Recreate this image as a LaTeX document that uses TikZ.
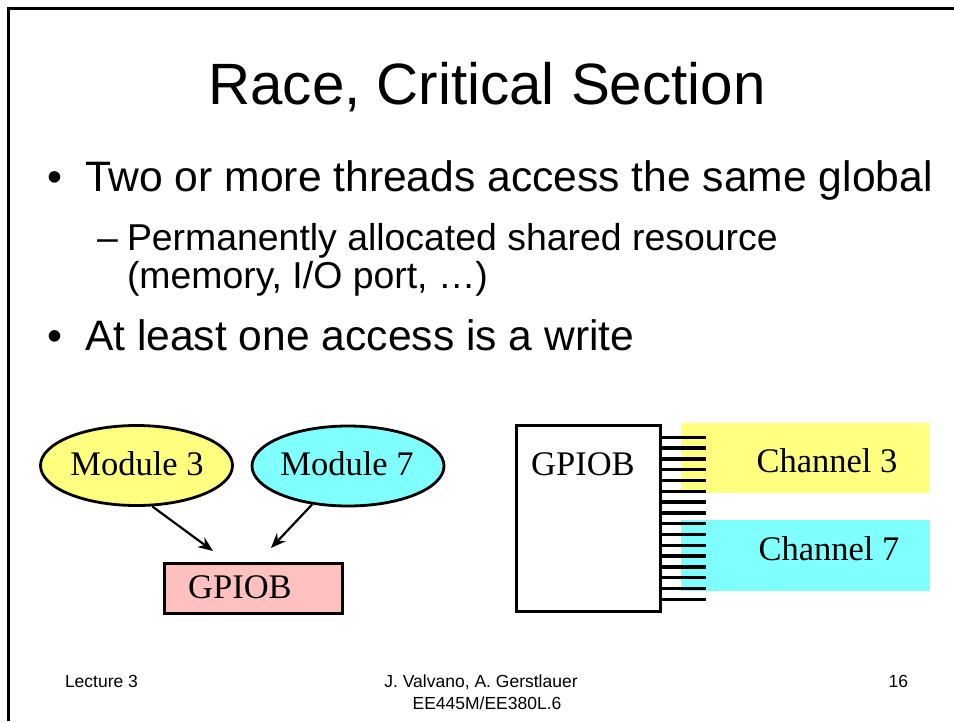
\documentclass[tikz,border=0pt]{standalone}
\usepackage{fontspec}
\setmainfont{Liberation Serif}
\newfontfamily\arialf{Liberation Sans}
\usetikzlibrary{shapes.geometric,arrows.meta,calc}
\definecolor{yel}{RGB}{255,255,128}
\definecolor{cya}{RGB}{128,255,255}
\definecolor{pnk}{RGB}{255,192,192}
\begin{document}
\begin{tikzpicture}[x=1pt,y=-1pt,
  txt/.style={inner sep=0pt, outer sep=0pt},
  titlef/.style={txt, font=\arialf\fontsize{58.3}{70}\selectfont},
  bulf/.style={txt, anchor=base west, font=\arialf\fontsize{42.6}{50}\selectfont},
  subf/.style={txt, anchor=base west, font=\arialf\fontsize{37.4}{45}\selectfont},
  footf/.style={txt, font=\arialf\fontsize{17.5}{21}\selectfont},
  lbl/.style={txt, anchor=base, font=\fontsize{34.5}{40}\selectfont},
  modshape/.style={ellipse, draw, line width=2.8pt, minimum width=192pt, minimum height=80pt, inner sep=0pt},
  boxs/.style={draw, line width=2.8pt, inner sep=0pt},
  chan/.style={inner sep=0pt},
  arr/.style={-{Stealth[length=15pt,width=12pt,inset=5pt]}, line width=2.2pt},
  pin/.style={line width=3.3pt}
]
\useasboundingbox (0,0) rectangle (954,721);
\fill[white] (0,0) rectangle (954,721);
% slide border
\draw[line width=3pt] (8.5,721) -- (8.5,8.5) -- (954,8.5);

% title
\node[titlef, anchor=base] (title) at (487,104) {Race, Critical Section};

% bullets
\node[bulf] (b1dot) at (47.6,191) {•};
\node[bulf] (b1) at (85,191) {Two or more threads access the same global};
\node[subf] (s1dash) at (97,250) {–};
\node[subf] (s1) at (127,250) {Permanently allocated shared resource};
\node[subf] (s2) at (127,288) {(memory, I/O port, …)};
\node[bulf] (b2dot) at (47.6,350) {•};
\node[bulf] (b2) at (85,350) {At least one access is a write};

% left diagram
\node[modshape, fill=yel] (mod3) at (136.5,465.5) {};
\node[lbl] (mod3t) at (137,475) {Module 3};
\node[modshape, fill=cya] (mod7) at (348,466) {};
\node[lbl] (mod7t) at (347,475) {Module 7};
\node[boxs, fill=pnk, minimum width=178pt, minimum height=50pt] (gpioL) at (253.5,588.5) {};
\node[lbl] (gpioLt) at (240,598) {GPIOB};
\coordinate (e1) at (213,551);
\coordinate (e2) at (271,548);
\draw[arr] (mod3.-69) -- (e1);
\draw[arr] (mod7.-133) -- (e2);

% right diagram
\node[chan, fill=yel, minimum width=249pt, minimum height=70pt] (ch3) at (805.5,458) {};
\node[chan, fill=cya, minimum width=249pt, minimum height=71pt] (ch7) at (805.5,555.5) {};
\node[lbl] (ch3t) at (827,472) {Channel 3};
\node[lbl] (ch7t) at (829,560) {Channel 7};
\foreach \i in {0,...,15} {
  \draw[pin] (662,437.3+10.8*\i) -- (706,437.3+10.8*\i);
}
\node[boxs, fill=white, minimum width=144pt, minimum height=186pt] (gpioR) at (588.5,518.5) {};
\node[lbl] (gpioRt) at (583,475) {GPIOB};

% footer
\node[footf, anchor=base west] (f1) at (65,687) {Lecture 3};
\node[footf, anchor=base] (f2) at (481,687) {J. Valvano, A. Gerstlauer};
\node[footf, anchor=base] (f3) at (487,709) {EE445M/EE380L.6};
\node[footf, anchor=base east] (f4) at (908,687) {16};
\end{tikzpicture}
\end{document}
